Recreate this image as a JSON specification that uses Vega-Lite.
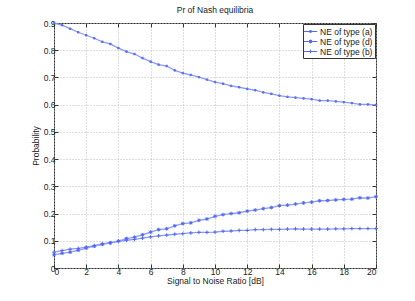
{
  "$schema": "https://vega.github.io/schema/vega-lite/v6.json",
  "width": 322,
  "height": 245,
  "autosize": {"type": "none"},
  "padding": {"left": 54, "top": 23, "right": 39, "bottom": 33},
  "background": "white",
  "config": {
    "font": "Liberation Sans",
    "view": {"stroke": "#333", "strokeWidth": 1},
    "axis": {
      "labelFontSize": 8.5, "labelColor": "#222", "titleFontSize": 8.5, "titleFontWeight": "normal", "titleColor": "#222",
      "domain": false, "tickColor": "#333", "tickSize": -4, "gridColor": "#bbb", "gridDash": [1, 2], "gridWidth": 1
    },
    "title": {"fontSize": 8.5, "fontWeight": "normal", "color": "#222", "offset": 5}
  },
  "title": "Pr of Nash equilibria",
  "data": {"values": [
    {"s":"NE of type (a)","x":0,"y":0.900},{"s":"NE of type (a)","x":0.5,"y":0.892},{"s":"NE of type (a)","x":1,"y":0.879},{"s":"NE of type (a)","x":1.5,"y":0.866},{"s":"NE of type (a)","x":2,"y":0.855},{"s":"NE of type (a)","x":2.5,"y":0.844},{"s":"NE of type (a)","x":3,"y":0.831},{"s":"NE of type (a)","x":3.5,"y":0.823},{"s":"NE of type (a)","x":4,"y":0.808},{"s":"NE of type (a)","x":4.5,"y":0.795},{"s":"NE of type (a)","x":5,"y":0.786},{"s":"NE of type (a)","x":5.5,"y":0.771},{"s":"NE of type (a)","x":6,"y":0.758},{"s":"NE of type (a)","x":6.5,"y":0.747},{"s":"NE of type (a)","x":7,"y":0.742},{"s":"NE of type (a)","x":7.5,"y":0.726},{"s":"NE of type (a)","x":8,"y":0.716},{"s":"NE of type (a)","x":8.5,"y":0.709},{"s":"NE of type (a)","x":9,"y":0.701},{"s":"NE of type (a)","x":9.5,"y":0.692},{"s":"NE of type (a)","x":10,"y":0.683},{"s":"NE of type (a)","x":10.5,"y":0.677},{"s":"NE of type (a)","x":11,"y":0.669},{"s":"NE of type (a)","x":11.5,"y":0.664},{"s":"NE of type (a)","x":12,"y":0.658},{"s":"NE of type (a)","x":12.5,"y":0.653},{"s":"NE of type (a)","x":13,"y":0.645},{"s":"NE of type (a)","x":13.5,"y":0.640},{"s":"NE of type (a)","x":14,"y":0.633},{"s":"NE of type (a)","x":14.5,"y":0.629},{"s":"NE of type (a)","x":15,"y":0.626},{"s":"NE of type (a)","x":15.5,"y":0.623},{"s":"NE of type (a)","x":16,"y":0.620},{"s":"NE of type (a)","x":16.5,"y":0.615},{"s":"NE of type (a)","x":17,"y":0.615},{"s":"NE of type (a)","x":17.5,"y":0.612},{"s":"NE of type (a)","x":18,"y":0.609},{"s":"NE of type (a)","x":18.5,"y":0.606},{"s":"NE of type (a)","x":19,"y":0.601},{"s":"NE of type (a)","x":19.5,"y":0.601},{"s":"NE of type (a)","x":20,"y":0.599},
    {"s":"NE of type (d)","x":0,"y":0.048},{"s":"NE of type (d)","x":0.5,"y":0.054},{"s":"NE of type (d)","x":1,"y":0.058},{"s":"NE of type (d)","x":1.5,"y":0.065},{"s":"NE of type (d)","x":2,"y":0.073},{"s":"NE of type (d)","x":2.5,"y":0.080},{"s":"NE of type (d)","x":3,"y":0.087},{"s":"NE of type (d)","x":3.5,"y":0.092},{"s":"NE of type (d)","x":4,"y":0.099},{"s":"NE of type (d)","x":4.5,"y":0.108},{"s":"NE of type (d)","x":5,"y":0.113},{"s":"NE of type (d)","x":5.5,"y":0.122},{"s":"NE of type (d)","x":6,"y":0.132},{"s":"NE of type (d)","x":6.5,"y":0.141},{"s":"NE of type (d)","x":7,"y":0.144},{"s":"NE of type (d)","x":7.5,"y":0.155},{"s":"NE of type (d)","x":8,"y":0.163},{"s":"NE of type (d)","x":8.5,"y":0.166},{"s":"NE of type (d)","x":9,"y":0.175},{"s":"NE of type (d)","x":9.5,"y":0.180},{"s":"NE of type (d)","x":10,"y":0.190},{"s":"NE of type (d)","x":10.5,"y":0.196},{"s":"NE of type (d)","x":11,"y":0.200},{"s":"NE of type (d)","x":11.5,"y":0.203},{"s":"NE of type (d)","x":12,"y":0.209},{"s":"NE of type (d)","x":12.5,"y":0.213},{"s":"NE of type (d)","x":13,"y":0.218},{"s":"NE of type (d)","x":13.5,"y":0.222},{"s":"NE of type (d)","x":14,"y":0.229},{"s":"NE of type (d)","x":14.5,"y":0.231},{"s":"NE of type (d)","x":15,"y":0.235},{"s":"NE of type (d)","x":15.5,"y":0.239},{"s":"NE of type (d)","x":16,"y":0.242},{"s":"NE of type (d)","x":16.5,"y":0.247},{"s":"NE of type (d)","x":17,"y":0.248},{"s":"NE of type (d)","x":17.5,"y":0.250},{"s":"NE of type (d)","x":18,"y":0.252},{"s":"NE of type (d)","x":18.5,"y":0.253},{"s":"NE of type (d)","x":19,"y":0.258},{"s":"NE of type (d)","x":19.5,"y":0.257},{"s":"NE of type (d)","x":20,"y":0.262},
    {"s":"NE of type (b)","x":0,"y":0.058},{"s":"NE of type (b)","x":0.5,"y":0.064},{"s":"NE of type (b)","x":1,"y":0.069},{"s":"NE of type (b)","x":1.5,"y":0.072},{"s":"NE of type (b)","x":2,"y":0.077},{"s":"NE of type (b)","x":2.5,"y":0.082},{"s":"NE of type (b)","x":3,"y":0.089},{"s":"NE of type (b)","x":3.5,"y":0.093},{"s":"NE of type (b)","x":4,"y":0.098},{"s":"NE of type (b)","x":4.5,"y":0.102},{"s":"NE of type (b)","x":5,"y":0.105},{"s":"NE of type (b)","x":5.5,"y":0.110},{"s":"NE of type (b)","x":6,"y":0.114},{"s":"NE of type (b)","x":6.5,"y":0.118},{"s":"NE of type (b)","x":7,"y":0.121},{"s":"NE of type (b)","x":7.5,"y":0.124},{"s":"NE of type (b)","x":8,"y":0.126},{"s":"NE of type (b)","x":8.5,"y":0.129},{"s":"NE of type (b)","x":9,"y":0.131},{"s":"NE of type (b)","x":9.5,"y":0.131},{"s":"NE of type (b)","x":10,"y":0.132},{"s":"NE of type (b)","x":10.5,"y":0.135},{"s":"NE of type (b)","x":11,"y":0.136},{"s":"NE of type (b)","x":11.5,"y":0.138},{"s":"NE of type (b)","x":12,"y":0.138},{"s":"NE of type (b)","x":12.5,"y":0.141},{"s":"NE of type (b)","x":13,"y":0.141},{"s":"NE of type (b)","x":13.5,"y":0.142},{"s":"NE of type (b)","x":14,"y":0.142},{"s":"NE of type (b)","x":14.5,"y":0.143},{"s":"NE of type (b)","x":15,"y":0.144},{"s":"NE of type (b)","x":15.5,"y":0.143},{"s":"NE of type (b)","x":16,"y":0.143},{"s":"NE of type (b)","x":16.5,"y":0.143},{"s":"NE of type (b)","x":17,"y":0.143},{"s":"NE of type (b)","x":17.5,"y":0.144},{"s":"NE of type (b)","x":18,"y":0.144},{"s":"NE of type (b)","x":18.5,"y":0.145},{"s":"NE of type (b)","x":19,"y":0.145},{"s":"NE of type (b)","x":19.5,"y":0.145},{"s":"NE of type (b)","x":20,"y":0.145}
  ]},
  "layer": [
    {
      "mark": {"type": "line", "color": "#8b9bf8", "strokeWidth": 1.3},
      "encoding": {
        "x": {"field": "x", "type": "quantitative", "scale": {"domain": [0, 20], "nice": false},
          "axis": {"orient": "bottom", "values": [0,2,4,6,8,10,12,14,16,18,20], "grid": true, "title": "Signal to Noise Ratio [dB]", "labelPadding": 3, "titlePadding": 1}},
        "y": {"field": "y", "type": "quantitative", "scale": {"domain": [0, 0.9], "nice": false, "zero": false},
          "axis": {"orient": "left", "values": [0,0.1,0.2,0.3,0.4,0.5,0.6,0.7,0.8,0.9], "format": "~f", "grid": true, "title": "Probability", "labelPadding": 3, "titlePadding": 3}},
        "detail": {"field": "s"}
      }
    },
    {
      "mark": {"type": "point", "filled": false, "color": "#5468f0", "strokeWidth": 1, "size": 14, "opacity": 1},
      "encoding": {
        "x": {"field": "x", "type": "quantitative",
          "axis": {"orient": "top", "values": [0,2,4,6,8,10,12,14,16,18,20], "grid": false, "labels": false, "title": null}},
        "y": {"field": "y", "type": "quantitative",
          "axis": {"orient": "right", "values": [0,0.1,0.2,0.3,0.4,0.5,0.6,0.7,0.8,0.9], "grid": false, "labels": false, "title": null}},
        "shape": {"field": "s", "type": "nominal", "legend": null,
          "scale": {"domain": ["NE of type (a)", "NE of type (d)", "NE of type (b)"],
            "range": ["M-0.4,-0.4H0.4V0.4H-0.4Z", "M-1,0H1M0,-1V1M-0.7,-0.7L0.7,0.7M-0.7,0.7L0.7,-0.7", "M-1,0H1M0,-1V1"]}}
      }
    },
    {
      "transform": [{"filter": "false"}],
      "mark": {"type": "point", "filled": false, "color": "#5468f0", "strokeWidth": 1, "opacity": 1},
      "encoding": {
        "x": {"field": "x", "type": "quantitative", "axis": null},
        "y": {"field": "y", "type": "quantitative", "axis": null},
        "shape": {"field": "s", "type": "nominal",
          "scale": {"domain": ["NE of type (a)", "NE of type (d)", "NE of type (b)"],
            "range": ["M-1.4,0H1.4M-0.18,-0.18H0.18V0.18H-0.18Z", "M-1.4,0H1.4M0,-0.4V0.4M-0.3,-0.3L0.3,0.3M-0.3,0.3L0.3,-0.3", "M-1.4,0H1.4M0,-0.4V0.4"]},
          "legend": {"title": null, "orient": "top-right", "offset": 1, "fillColor": "white", "strokeColor": "#333", "padding": 2,
            "labelFontSize": 8.5, "labelColor": "#222", "symbolSize": 90, "symbolStrokeColor": "#5468f0", "symbolFillColor": "transparent", "symbolStrokeWidth": 1, "symbolOpacity": 1, "rowPadding": 0, "labelOffset": 4}}
      }
    }
  ],
  "resolve": {"axis": {"x": "independent", "y": "independent"}, "scale": {"shape": "independent"}}
}
